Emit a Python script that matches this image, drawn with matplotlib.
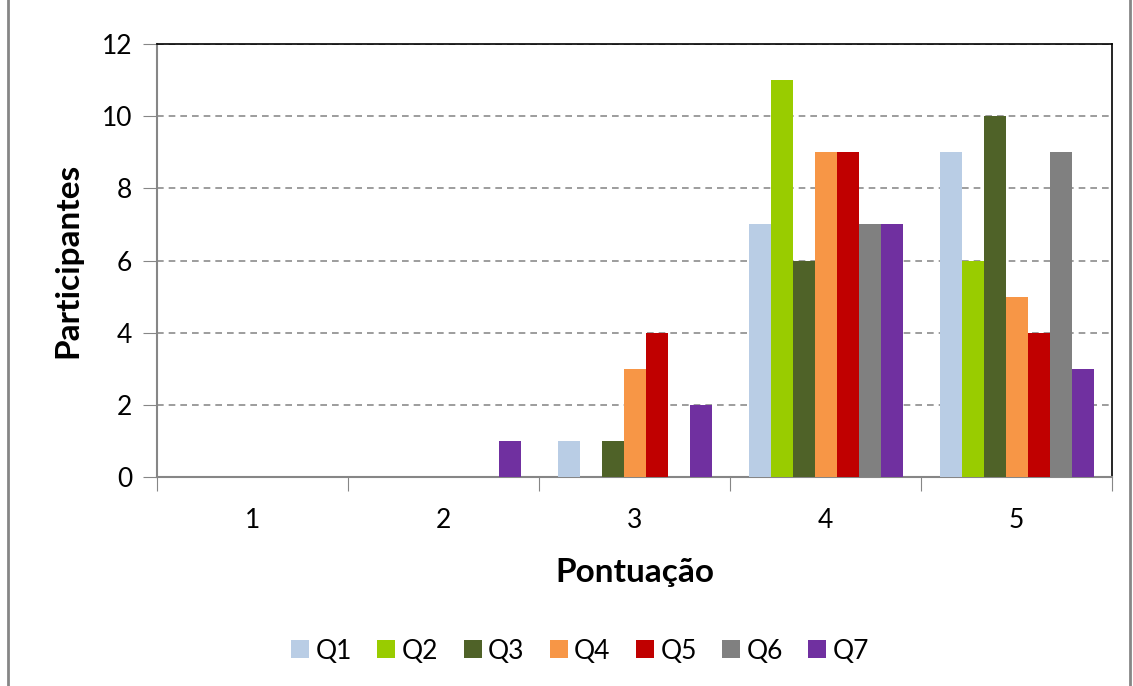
import numpy as np
import matplotlib.pyplot as plt
from matplotlib.lines import Line2D

plt.rcParams['font.family'] = ['Lato', 'DejaVu Sans']

categories = ['1', '2', '3', '4', '5']
series = ['Q1', 'Q2', 'Q3', 'Q4', 'Q5', 'Q6', 'Q7']
q1 = [0, 0, 1, 7, 9]
q2 = [0, 0, 0, 11, 6]
q3 = [0, 0, 1, 6, 10]
q4 = [0, 0, 3, 9, 5]
q5 = [0, 0, 4, 9, 4]
q6 = [0, 0, 0, 7, 9]
q7 = [0, 1, 2, 7, 3]
values = [q1, q2, q3, q4, q5, q6, q7]
colors = ['#B9CDE5', '#99CC00', '#4F6228', '#F79646', '#C00000', '#808080', '#7030A0']

fig = plt.figure(figsize=(11.33, 6.86), dpi=100)
ax = fig.add_axes([0.1386, 0.3047, 0.843, 0.631])

x = np.arange(1, len(categories) + 1)
w = 0.1152
for i, (name, vals) in enumerate(zip(series, values)):
    ax.bar(x + (i - 3) * w, vals, width=w, color=colors[i], label=name, zorder=3)

ax.set_xlim(0.5, 5.5)
ax.set_ylim(0, 12)
ax.set_yticks(range(0, 13, 2))
ax.set_xticks(np.arange(0.5, 5.6, 1))
ax.set_xticklabels([])
ax.set_xticks(x, minor=True)
ax.set_xticklabels(categories, minor=True)
ax.tick_params(axis='x', which='major', length=10, color='#868686', direction='out')
ax.tick_params(axis='x', which='minor', length=0, labelsize=19, pad=22)
ax.tick_params(axis='y', length=10, color='#868686', labelsize=19, pad=8)

ax.yaxis.grid(True, linestyle=(0, (4, 3)), color='#8c8c8c', linewidth=1.2, zorder=0)
for s in ['left', 'bottom']:
    ax.spines[s].set_color('#868686')
    ax.spines[s].set_linewidth(1.5)
for s in ['top', 'right']:
    ax.spines[s].set_color('black')
    ax.spines[s].set_linewidth(1.2)

ax.set_ylabel('Participantes', fontsize=24, fontweight='bold', labelpad=14)
ax.set_xlabel('Pontuação', fontsize=24, fontweight='bold', labelpad=18)

fig.legend(*ax.get_legend_handles_labels(), loc='center', bbox_to_anchor=(0.512, 0.051),
           bbox_transform=fig.transFigure, ncol=7, frameon=False,
           fontsize=19, handlelength=0.68, handleheight=0.68, handletextpad=0.25,
           columnspacing=0.95)

# chart frame (only the side edges are inside the picture)
for xf in (0.007, 0.9975):
    fig.add_artist(Line2D([xf, xf], [0, 1], transform=fig.transFigure,
                          color='#868686', linewidth=2))

fig.savefig('out.png', dpi=100)
